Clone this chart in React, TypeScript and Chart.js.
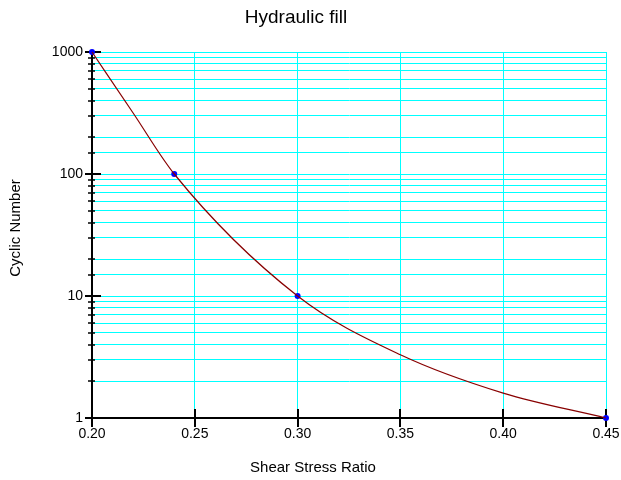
import React, { useEffect, useRef } from "react";
import { Chart, registerables } from "chart.js";

Chart.register(...registerables);

const chartTitle = "Hydraulic fill";
const xAxisTitle = "Shear Stress Ratio";
const yAxisTitle = "Cyclic Number";
// measured points (blue markers)
const shearStressRatio = [0.2, 0.24, 0.3, 0.45];
const cyclicNumber = [1000, 100, 10, 1];
// fitted curve, values
const curveRatio = [0.2, 0.22, 0.24, 0.3, 0.35, 0.4, 0.45];
const curveCycles = [1000, 316, 100, 10, 3.3, 1.6, 1];
const xTickValues = [0.2, 0.25, 0.3, 0.35, 0.4, 0.45];
const yMajorTicks = [1, 10, 100, 1000];

const FONT = "'Liberation Sans', Arial, sans-serif";

const decorPlugin = {
  id: "decor",
  beforeDatasetsDraw(chart: any) {
    const ctx = chart.ctx;
    const xs = chart.scales.x;
    const ys = chart.scales.y;
    const area = chart.chartArea;
    ctx.save();
    ctx.strokeStyle = "#000";
    ctx.lineWidth = 2;
    xTickValues.forEach((v) => {
      const px = Math.round(xs.getPixelForValue(v));
      ctx.beginPath();
      ctx.moveTo(px, area.bottom - 9);
      ctx.lineTo(px, area.bottom + 9);
      ctx.stroke();
    });
    ys.ticks.forEach((t: any) => {
      const py = Math.round(ys.getPixelForValue(t.value));
      const major = yMajorTicks.includes(t.value);
      ctx.lineWidth = major ? 2 : 1.5;
      ctx.beginPath();
      if (major) {
        ctx.moveTo(area.left - 7, py);
        ctx.lineTo(area.left + 9, py);
      } else {
        ctx.moveTo(area.left - 4, py);
        ctx.lineTo(area.left + 3, py);
      }
      ctx.stroke();
    });
    ctx.restore();
  },
  afterDraw(chart: any) {
    const ctx = chart.ctx;
    ctx.save();
    ctx.fillStyle = "#000";
    ctx.textAlign = "center";
    ctx.textBaseline = "middle";
    ctx.font = `19px ${FONT}`;
    ctx.fillText(chartTitle, 296, 18);
    ctx.font = `15px ${FONT}`;
    ctx.fillText(xAxisTitle, 313, 468);
    ctx.translate(16, 228);
    ctx.rotate(-Math.PI / 2);
    ctx.fillText(yAxisTitle, 0, 0);
    ctx.restore();
  },
};

export default function App() {
  const canvasRef = useRef<HTMLCanvasElement | null>(null);

  useEffect(() => {
    if (!canvasRef.current) return;
    const points = shearStressRatio.map((x, i) => ({ x, y: cyclicNumber[i] }));
    const curve = curveRatio.map((x, i) => ({ x, y: curveCycles[i] }));
    const chart = new Chart(canvasRef.current, {
      type: "line",
      data: {
        datasets: [
          {
            data: curve,
            borderColor: "#880000",
            borderWidth: 1.2,
            pointRadius: 0,
            cubicInterpolationMode: "monotone",
            fill: false,
            clip: false as any,
          },
          {
            data: points,
            showLine: false,
            backgroundColor: "#0000ff",
            borderColor: "#0000ff",
            pointBackgroundColor: "#0000ff",
            pointBorderColor: "#0000ff",
            pointRadius: 3,
            pointBorderWidth: 0,
            clip: false as any,
          },
        ],
      },
      options: {
        responsive: false,
        animation: false,
        events: [],
        layout: { padding: { left: 0, right: 15, top: 52, bottom: 0 } },
        plugins: {
          legend: { display: false },
          title: { display: false },
          tooltip: { enabled: false },
        },
        scales: {
          x: {
            type: "linear",
            min: 0.2,
            max: 0.45,
            afterBuildTicks(scale: any) {
              scale.ticks = xTickValues.map((v) => ({ value: v }));
            },
            afterFit(scale: any) {
              scale.height = 62;
              scale.paddingLeft = 0;
              scale.paddingRight = 0;
            },
            ticks: {
              font: { family: FONT, size: 14 },
              color: "#000",
              padding: 8,
              maxRotation: 0,
              autoSkip: false,
              callback: (v: any) => Number(v).toFixed(2),
            },
            grid: {
              color: "#00ffff",
              lineWidth: 1,
              drawTicks: false,
            },
            border: { color: "#000", width: 2 },
          },
          y: {
            type: "logarithmic",
            min: 1,
            max: 1000,
            afterFit(scale: any) {
              scale.width = 92;
              scale.paddingTop = 0;
              scale.paddingBottom = 0;
            },
            ticks: {
              font: { family: FONT, size: 14 },
              color: "#000",
              padding: 9,
              autoSkip: false,
              callback: (v: any) =>
                yMajorTicks.includes(Number(v)) ? String(v) : "",
            },
            grid: {
              color: "#00ffff",
              lineWidth: 1,
              drawTicks: false,
            },
            border: { color: "#000", width: 2 },
          },
        },
      },
      plugins: [decorPlugin],
    });
    return () => chart.destroy();
  }, []);

  return (
    <div
      style={{
        position: "fixed",
        left: 0,
        top: 0,
        width: 621,
        height: 480,
        background: "#fff",
      }}
    >
      <canvas ref={canvasRef} width={621} height={480} />
    </div>
  );
}
